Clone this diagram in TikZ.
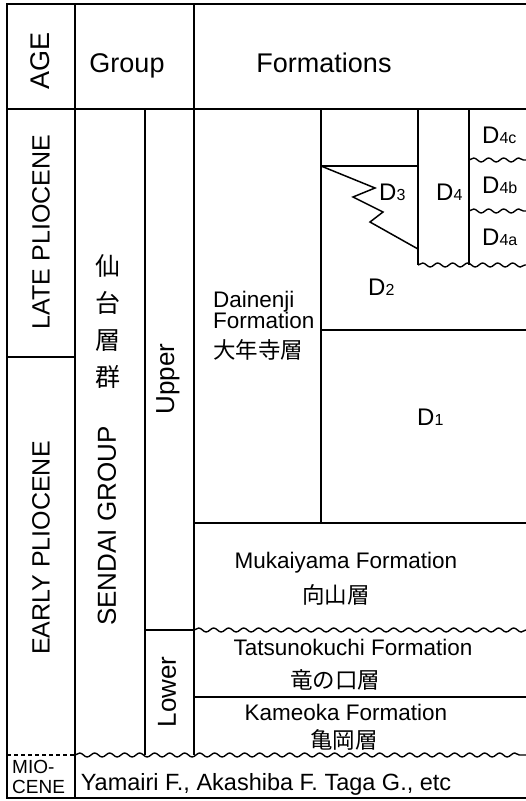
\documentclass[tikz,border=0pt]{standalone}
\usepackage{fontspec}
\setmainfont{Liberation Sans}
\newfontfamily\jp{Noto Sans CJK JP}
\usetikzlibrary{decorations.pathmorphing}
\newcommand{\sbs}[1]{{\fontsize{16}{16}\selectfont #1}}
\begin{document}
\begin{tikzpicture}[x=1pt,y=-1pt,
  borderln/.style={line width=2.6pt},
  thickln/.style={line width=2.2pt},
  thinln/.style={line width=1.5pt},
  wavy/.style={line width=1.4pt, decorate, decoration={snake, segment length=15pt, amplitude=2pt}},
  head/.style={font=\fontsize{27}{29}\selectfont, inner sep=0pt},
  big/.style={font=\fontsize{25}{27}\selectfont, inner sep=0pt},
  lab/.style={font=\fontsize{22.5}{24}\selectfont, inner sep=0pt},
  jplab/.style={font=\jp\fontsize{22.5}{24}\selectfont, inner sep=0pt},
  mio/.style={font=\fontsize{19}{20}\selectfont, inner sep=0pt},
  dlab/.style={font=\fontsize{24}{24}\selectfont, inner sep=0pt, anchor=base west}
]
\useasboundingbox (0,0) rectangle (526,801);
\fill[white] (0,0) rectangle (526,801);

% frame
\draw[borderln] (526,4) -- (7,4) -- (7,798) -- (526,798);
\draw[borderln] (7,109) -- (526,109);
\draw[thickln] (75,4) -- (75,798);
\draw[thickln] (194,4) -- (194,755);
\draw[thinln] (145,109) -- (145,755);
\draw[thinln] (7,357) -- (75,357);
\draw[thinln, dash pattern=on 4pt off 3pt] (7,755) -- (75,755);
\draw[thinln] (145,630) -- (194,630);

% formations
\draw[thinln] (321,109) -- (321,523);
\draw[thinln] (194,523) -- (526,523);
\draw[wavy] (194,630) -- (526,630);
\draw[thinln] (194,697) -- (526,697);
\draw[wavy] (75,755) -- (526,755);
\draw[thinln] (321,330) -- (526,330);
\draw[thinln] (321,166) -- (418,166);
\draw[thinln] (321,166) -- (375,188) -- (353,197) -- (383,212) -- (370,222) -- (418,249);
\draw[thinln] (418,109) -- (418,265);
\draw[thinln] (469,109) -- (469,265);
\draw[wavy] (418,265) -- (526,265);
\draw[wavy] (469,160) -- (526,160);
\draw[wavy] (469,211) -- (526,211);

% header
\node[head, rotate=90] (age) at (40,61) {AGE};
\node[head, anchor=base] (group) at (127,72) {Group};
\node[head, anchor=base] (formations) at (324,72) {Formations};

% age column
\node[big, rotate=90] (late) at (41,232) {LATE PLIOCENE};
\node[big, rotate=90] (early) at (41,548) {EARLY PLIOCENE};
\node[mio, anchor=base west] (mio1) at (12,773) {MIO-};
\node[mio, anchor=base west] (mio2) at (12,793) {CENE};

% group column
\node[font=\jp\fontsize{25}{37}\selectfont, inner sep=0pt, align=center] (sendaijp) at (108,322) {仙\\台\\層\\群};
\node[font=\fontsize{26}{28}\selectfont, inner sep=0pt, rotate=90] (sendai) at (107,526) {SENDAI GROUP};
\node[font=\fontsize{26}{28}\selectfont, inner sep=0pt, rotate=90] (upper) at (168,379) {Upper};
\node[font=\fontsize{26}{28}\selectfont, inner sep=0pt, rotate=90] (lower) at (167,692) {Lower};

% formation labels
\node[lab, anchor=base west] (dain1) at (213,307) {Dainenji};
\node[lab, anchor=base west] (dain2) at (213,328) {Formation};
\node[jplab, anchor=base west] (dain3) at (213,358) {大年寺層};
\node[dlab] (d2) at (368,295) {D\sbs{2}};
\node[dlab] (d1) at (417,425) {D\sbs{1}};
\node[dlab] (d3) at (379,200) {D\sbs{3}};
\node[dlab] (d4) at (436,200) {D\sbs{4}};
\node[dlab] (d4c) at (482,143) {D\sbs{4c}};
\node[dlab] (d4b) at (482,193) {D\sbs{4b}};
\node[dlab] (d4a) at (482,245) {D\sbs{4a}};

\node[lab, anchor=base] (muka) at (346,568) {Mukaiyama Formation};
\node[jplab, anchor=base] (mukajp) at (336,603) {向山層};
\node[lab, anchor=base] (tatsu) at (353,655) {Tatsunokuchi Formation};
\node[jplab, anchor=base] (tatsujp) at (335,688) {竜の口層};
\node[lab, anchor=base] (kame) at (346,720) {Kameoka Formation};
\node[jplab, anchor=base] (kamejp) at (344,748) {亀岡層};
\node[font=\fontsize{23.5}{25}\selectfont, inner sep=0pt, anchor=base] (yama) at (266,790) {Yamairi F., Akashiba F. Taga G., etc};
\end{tikzpicture}
\end{document}
